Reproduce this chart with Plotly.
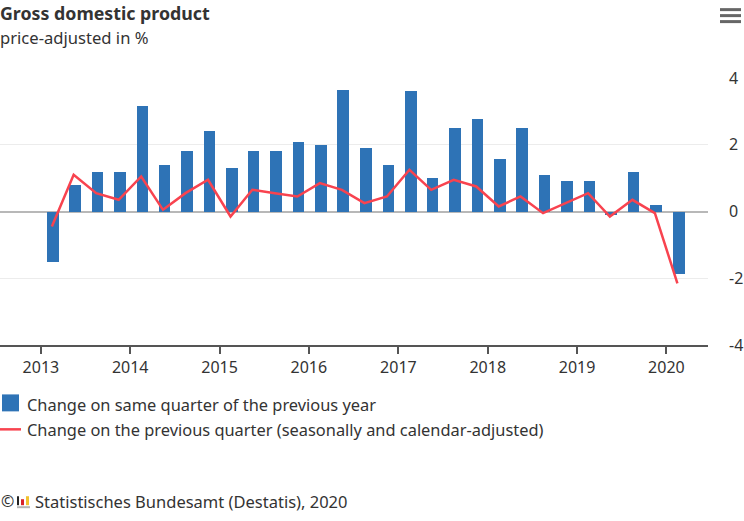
import plotly.graph_objects as go

W, H = 744, 521
ML, MR, MT, MB = 0, 36, 78, 175.5
PW, PH = W - ML - MR, H - MT - MB

quarters = ["2013-02-15", "2013-05-15", "2013-08-15", "2013-11-15",
            "2014-02-15", "2014-05-15", "2014-08-15", "2014-11-15",
            "2015-02-15", "2015-05-15", "2015-08-15", "2015-11-15",
            "2016-02-15", "2016-05-15", "2016-08-15", "2016-11-15",
            "2017-02-15", "2017-05-15", "2017-08-15", "2017-11-15",
            "2018-02-15", "2018-05-15", "2018-08-15", "2018-11-15",
            "2019-02-15", "2019-05-15", "2019-08-15", "2019-11-15",
            "2020-02-15"]
yoy_change = [-1.5, 0.8, 1.18, 1.18, 3.15, 1.38, 1.8, 2.4, 1.3, 1.8, 1.8, 2.07, 2.0, 3.65, 1.9, 1.38,
              3.6, 1.0, 2.5, 2.78, 1.58, 2.5, 1.1, 0.9, 0.9, -0.1, 1.18, 0.2, -1.88]
qoq_change = [-0.45, 1.1, 0.55, 0.35, 1.05, 0.05, 0.55, 0.95, -0.15, 0.65, 0.55, 0.45, 0.85, 0.65, 0.25,
              0.45, 1.25, 0.65, 0.95, 0.75, 0.15, 0.45, -0.05, 0.25, 0.55, -0.15, 0.35, -0.05, -2.15]
year_ticks = ["2013-01-01", "2014-01-01", "2015-01-01", "2016-01-01",
              "2017-01-01", "2018-01-01", "2019-01-01", "2020-01-01"]
year_labels = ["2013", "2014", "2015", "2016", "2017", "2018", "2019", "2020"]
value_ticks = [-4, -2, 0, 2, 4]
value_labels = ["-4", "-2", "0", "2", "4"]
series_names = ["Change on same quarter of the previous year",
                "Change on the previous quarter (seasonally and calendar-adjusted)"]

BLUE, RED, TXT = "#2e73b6", "#f8434f", "#333333"
FONT = "Noto Sans"
DAY_MS = 86400000


def px(x):
    return (x - ML) / PW


def py(y):
    return 1 - (y - MT) / PH


def box(x0, y0, x1, y1, color):
    return dict(type="rect", xref="paper", yref="paper", x0=px(x0), x1=px(x1), y0=py(y0), y1=py(y1),
                fillcolor=color, line_width=0, layer="above")


def label(x, y, text, size, bold=False):
    return dict(xref="paper", yref="paper", x=px(x), y=py(y), text=f"<b>{text}</b>" if bold else text,
                showarrow=False, xanchor="left", yanchor="middle", borderpad=0, borderwidth=0,
                font=dict(family=FONT, size=size, color=TXT))


fig = go.Figure()
fig.add_bar(x=quarters, y=yoy_change, name=series_names[0], marker=dict(color=BLUE, line_width=0),
            width=47 * DAY_MS, offset=-18 * DAY_MS)
fig.add_scatter(x=quarters, y=qoq_change, name=series_names[1], mode="lines",
                line=dict(color=RED, width=2.5))

shapes = [
    box(2, 395, 19, 412, BLUE),
    dict(type="line", xref="paper", yref="paper", x0=px(0), x1=px(21), y0=py(430), y1=py(430),
         line=dict(color=RED, width=2.5)),
    box(720, 8, 741, 11, "#666666"), box(720, 14, 741, 17, "#666666"), box(720, 20, 741, 23, "#666666"),
    box(17, 497, 19, 506, "#222222"), box(21, 500, 24, 506, "#d8232a"), box(26, 497, 29, 506, "#f2c230"),
    box(17, 507, 30, 509, "#b5b5b5"),
]
annotations = [
    label(0, 12.5, "Gross domestic product", 17.8, True),
    label(0, 37, "price-adjusted in %", 16.6),
    label(27, 405, series_names[0], 16.4),
    label(27, 430, series_names[1], 16.4),
    label(1, 502, "©", 16),
    label(35, 502, "Statistisches Bundesamt (Destatis), 2020", 16.5),
]

fig.update_layout(
    width=W, height=H, autosize=False,
    margin=dict(l=ML, r=MR, t=MT, b=MB, pad=0),
    paper_bgcolor="white", plot_bgcolor="white",
    showlegend=False, bargap=0,
    font=dict(family=FONT, size=16, color=TXT),
    shapes=shapes, annotations=annotations,
    xaxis=dict(type="date", range=["2012-07-18", "2020-06-19"], tickmode="array",
               tickvals=year_ticks, ticktext=year_labels, ticks="outside", ticklen=7, tickwidth=1.5,
               tickcolor="#555555", showgrid=False, showline=True, linecolor="#555555", linewidth=1.5,
               zeroline=False, tickfont=dict(size=16, color=TXT)),
    yaxis=dict(range=[-4, 4], side="right", tickmode="array", tickvals=value_ticks, ticktext=value_labels,
               ticks="", showgrid=True, gridcolor="#ececec", gridwidth=1.2, zeroline=True,
               zerolinecolor="#b8b8b8", zerolinewidth=1.5, showline=False, ticklabelstandoff=20,
               tickfont=dict(size=16, color=TXT)),
)
fig.write_html("out.html", config=dict(displayModeBar=False),
               post_script="document.body.style.margin='0';document.documentElement.style.overflow='hidden';")
